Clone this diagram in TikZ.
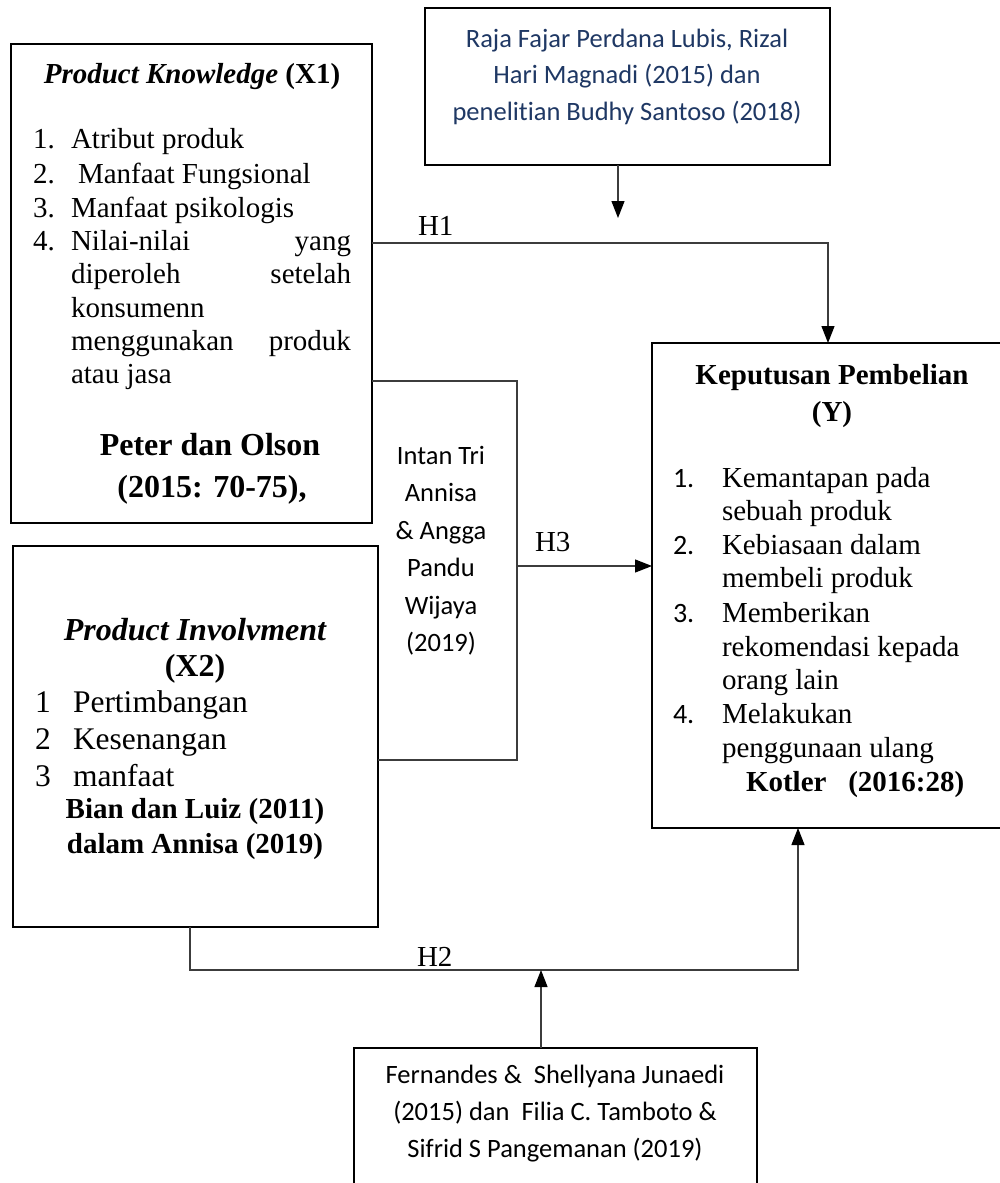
\documentclass[tikz,border=0pt]{standalone}
\usepackage{fontspec}
\setmainfont{Liberation Serif}
\newfontfamily\calfont[Ligatures={NoCommon}]{Carlito}
\usetikzlibrary{arrows.meta}
\definecolor{navytext}{RGB}{31,56,100}
\definecolor{conncol}{RGB}{60,60,60}
\begin{document}
\begin{tikzpicture}[x=1pt,y=-1pt,
  box/.style={draw=black,line width=2.4pt,inner sep=0pt,outer sep=0pt,anchor=north west},
  conn/.style={draw=conncol,line width=1.2pt},
  arr/.style={-{Triangle[length=17pt,width=13pt,color=black]}},
  tl/.style={inner sep=0pt,outer sep=0pt,font=\fontsize{29}{34}\selectfont},
  tb/.style={inner sep=0pt,outer sep=0pt,font=\fontsize{32}{37}\selectfont\bfseries},
  tx/.style={inner sep=0pt,outer sep=0pt,font=\fontsize{31.5}{37}\selectfont},
  cal/.style={inner sep=0pt,outer sep=0pt,font=\fontsize{26.5}{37}\selectfont\calfont},
  calnum/.style={inner sep=0pt,outer sep=0pt,font=\fontsize{28}{34}\selectfont\calfont}
]
\useasboundingbox[fill=white] (0,0) rectangle (1000,1183);

% ---------- boxes ----------
\node[box,minimum width=361pt,minimum height=479pt] (x1) at (11,44) {};
\node[box,minimum width=365pt,minimum height=381pt] (x2) at (13,546) {};
\node[box,minimum width=405pt,minimum height=157pt] (src1) at (425,8) {};
\node[box,minimum width=352pt,minimum height=485pt] (y) at (652,343) {};
\node[box,minimum width=403pt,minimum height=142pt] (src2) at (354,1048) {};
\node[inner sep=0pt,outer sep=0pt,anchor=north west,minimum width=145pt,minimum height=379pt] (intan) at (372,381) {};
\draw[conn] (intan.north west) -- (intan.north east) -- (intan.south east) -- (intan.south west -| x2.east);

% ---------- connectors ----------
\coordinate (toptip) at (618,218);
\draw[conn,arr] (src1.south -| toptip) -- (toptip);

\coordinate (h1turn) at (828,243);
\draw[conn,arr] (x1.east |- h1turn) -- (h1turn) -- (h1turn |- y.north);

\coordinate (h3y) at (0,566);
\draw[conn,arr] (intan.east |- h3y) -- (y.west |- h3y);

\coordinate (h2a) at (190,970);
\coordinate (h2b) at (798,970);
\draw[conn,arr] (x2.south -| h2a) -- (h2a) -- (h2b) -- (h2b |- y.south);

\coordinate (h2mid) at (541,970);
\draw[conn,arr] (src2.north -| h2mid) -- (h2mid);

% ---------- labels ----------
\node[tl,anchor=base west] (h1) at (418,235) {H1};
\node[tl,anchor=base west] (h3) at (535,551) {H3};
\node[tl,anchor=base west] (h2) at (417,966) {H2};

% ---------- X1 text ----------
\node[tl,anchor=base] (x1t) at (192,83) {\bfseries\itshape Product Knowledge \upshape(X1)};
\foreach \n/\yy in {1/148,2/183,3/217,4/250}
  \node[tl,anchor=base west] (x1n\n) at (33,\yy) {\n.};
\node[tl,anchor=base west] (x1a) at (71,148) {Atribut produk};
\node[tl,anchor=base west] (x1b) at (78,183) {Manfaat Fungsional};
\node[tl,anchor=base west] (x1c) at (71,217) {Manfaat psikologis};
\node[tl,anchor=base west] (x1d) at (71,250) {\makebox[280pt][s]{Nilai-nilai yang}};
\node[tl,anchor=base west] (x1e) at (71,283) {\makebox[280pt][s]{diperoleh setelah}};
\node[tl,anchor=base west] (x1f) at (71,317) {konsumenn};
\node[tl,anchor=base west] (x1g) at (71,350) {\makebox[280pt][s]{menggunakan produk}};
\node[tl,anchor=base west] (x1h) at (71,383) {atau jasa};
\node[tb,anchor=base] (x1s1) at (210,455) {Peter dan Olson};
\node[tb,anchor=base] (x1s2) at (212,497) {(2015: 70-75),};

% ---------- X2 text ----------
\node[tb,anchor=base] (x2t) at (195,640) {\itshape Product Involvment};
\node[tb,anchor=base] (x2t2) at (195,676) {(X2)};
\foreach \n/\yy/\tt in {1/712/Pertimbangan,2/749/Kesenangan,3/786/manfaat}{
  \node[tx,anchor=base west] (x2n\n) at (35,\yy) {\n};
  \node[tx,anchor=base west] (x2i\n) at (73,\yy) {\tt};
}
\node[tl,anchor=base,font=\fontsize{29}{34}\selectfont\bfseries] (x2s1) at (195,818) {Bian dan Luiz (2011)};
\node[tl,anchor=base,font=\fontsize{29}{34}\selectfont\bfseries] (x2s2) at (195,853) {dalam Annisa (2019)};

% ---------- source 1 text ----------
\node[cal,anchor=base,text=navytext] (s1a) at (627,47) {Raja Fajar Perdana Lubis, Rizal};
\node[cal,anchor=base,text=navytext] (s1b) at (627,83) {Hari Magnadi (2015) dan};
\node[cal,anchor=base,text=navytext] (s1c) at (627,120) {penelitian Budhy Santoso (2018)};

% ---------- Intan text ----------
\foreach \n/\yy/\tt in {1/464/Intan Tri,2/501/Annisa,3/539/\& Angga,4/576/Pandu,5/614/Wijaya,6/651/(2019)}
  \node[cal,anchor=base] (int\n) at (441,\yy) {\tt};

% ---------- Y text ----------
\node[tl,anchor=base,font=\fontsize{29}{34}\selectfont\bfseries] (yt1) at (832,384) {Keputusan Pembelian};
\node[tl,anchor=base,font=\fontsize{29}{34}\selectfont\bfseries] (yt2) at (832,421) {(Y)};
\foreach \n/\yy in {1/487,2/554,3/622,4/723}
  \node[calnum,anchor=base west] (yn\n) at (673,\yy) {\n.};
\foreach \n/\yy/\tt in {a/487/Kemantapan pada,b/520/sebuah produk,c/554/Kebiasaan dalam,d/587/membeli produk,e/622/Memberikan,f/656/rekomendasi kepada,g/689/orang lain,h/723/Melakukan,i/757/penggunaan ulang}
  \node[tl,anchor=base west] (yi\n) at (722,\yy) {\tt};
\node[tl,anchor=base west,font=\fontsize{29}{34}\selectfont\bfseries] (ys) at (746,791) {Kotler\ \ \ (2016:28)};

% ---------- source 2 text ----------
\node[cal,anchor=base] (s2a) at (555,1083) {Fernandes \&\ \ Shellyana Junaedi};
\node[cal,anchor=base] (s2b) at (555,1120) {(2015) dan\ \ Filia C. Tamboto \&};
\node[cal,anchor=base] (s2c) at (555,1157) {Sifrid S Pangemanan (2019)};
\end{tikzpicture}
\end{document}
